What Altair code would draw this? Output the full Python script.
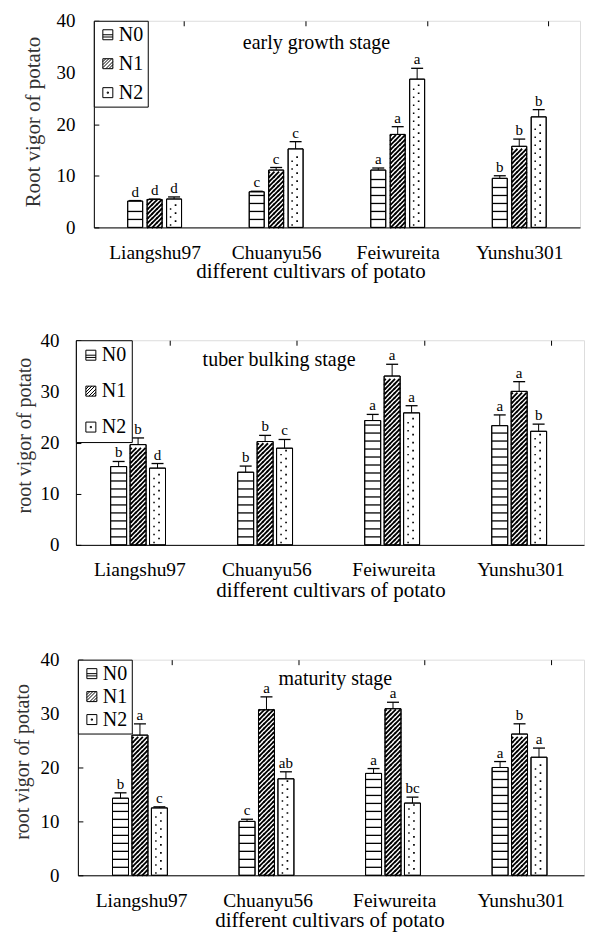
import math
import altair as alt
import pandas as pd

SERIF = "Liberation Serif"

cultivars = ["Liangshu97", "Chuanyu56", "Feiwureita", "Yunshu301"]
treatments = ["N0", "N1", "N2"]

# ---- early growth stage (rows: cultivars, cols: N0, N1, N2)
early_mean = [[5.1, 5.4, 5.5], [6.9, 11.1, 15.2], [11.1, 18.0, 28.7], [9.5, 15.7, 21.4]]
early_err = [[0.1, 0.1, 0.4], [0.1, 0.5, 1.4], [0.4, 1.5, 2.1], [0.5, 1.4, 1.4]]
early_sig = [["d", "d", "d"], ["c", "c", "c"], ["a", "a", "a"], ["b", "b", "b"]]

# ---- tuber bulking stage
bulk_mean = [[15.3, 19.6, 15.0], [14.2, 20.2, 18.9], [24.3, 33.0, 25.8], [23.3, 30.0, 22.2]]
bulk_err = [[1.0, 1.3, 0.9], [1.2, 1.2, 1.7], [1.2, 2.3, 1.4], [2.1, 1.9, 1.4]]
bulk_sig = [["b", "b", "d"], ["b", "b", "c"], ["a", "a", "a"], ["a", "a", "b"]]

# ---- maturity stage
mat_mean = [[14.3, 26.0, 12.5], [10.0, 30.7, 17.9], [18.9, 30.9, 13.4], [20.0, 26.2, 21.9]]
mat_err = [[1.0, 2.1, 0.2], [0.4, 2.4, 1.3], [0.9, 1.2, 1.1], [1.1, 1.9, 1.7]]
mat_sig = [["b", "a", "c"], ["c", "a", "ab"], ["a", "a", "bc"], ["a", "b", "a"]]


def sq(cx, cy, d, s):
    return (f"M{(cx - d / 2) / s:.4f},{(cy - d / 2) / s:.4f}"
            f"h{d / s:.4f}v{d / s:.4f}h{-d / s:.4f}Z")


def hatch_path(W, h, e=0.6):
    s = W / 2.0
    segs = []
    jmin = math.ceil((-W / 2 - h / 2 - e) / h) - 1
    jmax = math.floor((W / 2 + h / 2 + e) / h) + 1
    for j in range(jmin, jmax + 1):
        c = j * h
        x0, y0 = c - h / 2 - e, h / 2 + e
        x1, y1 = c + h / 2 + e, -h / 2 - e
        if x0 < -W / 2:
            x0, y0 = -W / 2, c + W / 2
        if x1 > W / 2:
            x1, y1 = W / 2, c - W / 2
        if x1 - x0 <= 0.05:
            continue
        segs.append(f"M{x0 / s:.4f},{y0 / s:.4f}L{x1 / s:.4f},{y1 / s:.4f}")
    return " ".join(segs)


def dots_path(W):
    s = W / 2.0
    return sq(1.5, -2.0, 1.7, s) + " " + sq(-3.5, 2.0, 1.5, s)


LEG_N0 = "M-1,-1H1V1H-1Z M-1,0H1 M-1,0.45H1"
LEG_N1 = ("M-1,-1H1V1H-1Z M-1,-0.4L-0.4,-1 M-1,0.2L0.2,-1 M-1,0.8L0.8,-1 "
          "M-0.4,1L1,-0.4 M0.2,1L1,0.2 M0.8,1L1,0.8")
LEG_N2 = "M-1,-1H1V1H-1Z M-0.12,-0.12H0.12V0.12H-0.12Z"


def panel(stage, means, errs, sigs, ytitle, W, H, bw, p):
    rows = []
    for i, c in enumerate(cultivars):
        for j, t in enumerate(treatments):
            rows.append(dict(cultivar=c, treatment=t, value=means[i][j],
                             err=errs[i][j], letter=sigs[i][j]))
    df = pd.DataFrame(rows)
    ppu = H / 40.0
    su = 8.0 / ppu      # horizontal stripe spacing
    hh = 4.6            # hatch tile height (px)
    hu = hh / ppu
    dh = 8.0            # dot tile height (px)
    du = dh / ppu

    yscale = alt.Scale(domain=[0, 40], nice=False, zero=True)
    yaxis = alt.Axis(values=[0, 10, 20, 30, 40], ticks=False, grid=True,
                     gridColor="black", gridDash=[5, 3000], gridWidth=1,
                     domainColor="black", domainWidth=1,
                     labelFont=SERIF, labelFontSize=19, labelColor="black",
                     labelPadding=p["ylp"],
                     titleFont=SERIF, titleFontSize=p["ytfs"], titleFontWeight="normal",
                     titleColor="#333333", titleX=p["ytx"], titleY=p["yty"],
                     titleAngle=270, titleAlign="center", titleBaseline="middle")

    def Y(field):
        return alt.Y(field, type="quantitative", scale=yscale, axis=yaxis, title=ytitle)

    xaxis = alt.Axis(labelAngle=0, ticks=False, tickBand="extent", grid=True,
                     gridColor="black", gridDash=[5, 3000], gridWidth=1,
                     domainColor="black", domainWidth=1,
                     labelFont=SERIF, labelFontSize=19.5, labelColor="black",
                     labelPadding=p["xlp"],
                     titleFont=SERIF, titleFontSize=21, titleFontWeight="normal",
                     titleColor="black", titleX=p["xtx"], titleY=p["xty"],
                     titleAlign="center", titleBaseline="middle")

    base = alt.Chart(df).encode(
        x=alt.X("cultivar:N", sort=cultivars,
                scale=alt.Scale(paddingInner=0.52, paddingOuter=0.26),
                axis=xaxis, title="different cultivars of potato"),
        xOffset=alt.XOffset("treatment:N", sort=treatments,
                            scale=alt.Scale(paddingInner=0, paddingOuter=0)),
    ).transform_calculate(top="datum.value + datum.err", mid="datum.value / 2")

    legend_pts = base.mark_point(filled=False, color="black", size=100,
                                 strokeWidth=1, opacity=1).encode(
        y=Y("mid"),
        shape=alt.Shape("treatment:N", sort=treatments,
                        scale=alt.Scale(domain=treatments, range=[LEG_N0, LEG_N1, LEG_N2]),
                        legend=alt.Legend(title=None, orient="top-left", offset=0,
                                          padding=p["lpad"], strokeColor="black",
                                          fillColor="white", labelFont=SERIF,
                                          labelFontSize=20, labelColor="black",
                                          symbolSize=100, symbolStrokeWidth=1,
                                          symbolStrokeColor="black",
                                          rowPadding=p["lrow"], labelOffset=1)),
    )

    bars = base.mark_bar(width=bw, fill="white", stroke="black", strokeWidth=1).encode(
        y=Y("value"))

    stripes = base.transform_filter("datum.treatment == 'N0'").transform_calculate(
        lv=f"sequence({su:.4f}, datum.value - {0.35 * su:.4f}, {su:.4f})"
    ).transform_flatten(["lv"]).mark_tick(
        orient="horizontal", size=bw, thickness=1.3, color="black", opacity=1
    ).encode(y=Y("lv"))

    hatch = base.transform_filter("datum.treatment == 'N1'").transform_calculate(
        lv=f"sequence({hu / 2:.4f}, datum.value - {hu / 2:.4f} + 0.0001, {hu:.5f})"
    ).transform_flatten(["lv"]).mark_point(
        shape=hatch_path(bw, hh), size=bw * bw, filled=False, color="black",
        strokeWidth=1.8, opacity=1
    ).encode(y=Y("lv"))

    dots = base.transform_filter("datum.treatment == 'N2'").transform_calculate(
        lv=f"sequence({du * 0.55:.4f}, datum.value - {du * 0.4:.4f}, {du:.4f})"
    ).transform_flatten(["lv"]).mark_point(
        shape=dots_path(bw), size=bw * bw, filled=True, color="black", opacity=1
    ).encode(y=Y("lv"))

    outline = base.mark_bar(width=bw, fillOpacity=0, stroke="black", strokeWidth=1).encode(
        y=Y("value"))

    err_rule = base.mark_rule(color="black", strokeWidth=1).encode(
        y=Y("value"), y2="top:Q")

    cap = base.mark_tick(orient="horizontal", size=12, thickness=1.3,
                         color="black", opacity=1).encode(y=Y("top"))

    labels = base.mark_text(baseline="alphabetic", dy=-4, font=SERIF, fontSize=15,
                            color="black").encode(y=Y("top"), text="letter:N")

    stage_title = base.transform_filter(
        "datum.cultivar == 'Chuanyu56' && datum.treatment == 'N1'"
    ).mark_text(text=stage, dx=p["tdx"], baseline="middle", align="center",
                font=SERIF, fontSize=20, color="black").encode(
        y=alt.Y(datum=p["ty"], type="quantitative", scale=yscale))

    plot = alt.layer(legend_pts, bars, stripes, hatch, dots, outline, err_rule, cap,
                     labels, stage_title).properties(width=W, height=H)

    # invisible spacer that sets how far this panel sits from the left edge
    spacer = alt.Chart(pd.DataFrame({"v": [0]})).mark_point(opacity=0, size=1).properties(
        width=p["shift"], height=1, view=alt.ViewBackground(stroke="transparent"))
    return alt.hconcat(spacer, plot, spacing=0).resolve_scale(
        shape="independent").resolve_legend(shape="independent")


p1 = panel("early growth stage", early_mean, early_err, early_sig,
           "Root vigor of potato", 487, 207, 15,
           dict(ylp=19, ytfs=21, ytx=-60, yty=101, xlp=16, xtx=217, xty=44,
                lpad=4, lrow=9, ty=35.7, tdx=40.4, shift=12))
p2 = panel("tuber bulking  stage", bulk_mean, bulk_err, bulk_sig,
           "root vigor of potato", 509, 205, 16,
           dict(ylp=17, ytfs=20, ytx=-51.5, yty=95, xlp=16, xtx=255, xty=46,
                lpad=5, lrow=16, ty=36.1, tdx=14, shift=4))
p3 = panel("maturity stage", mat_mean, mat_err, mat_sig,
           "root vigor of potato", 507, 216, 16,
           dict(ylp=19, ytfs=20, ytx=-55.5, yty=102, xlp=16, xtx=252, xty=45,
                lpad=4, lrow=3, ty=36.45, tdx=69, shift=2))

chart = alt.vconcat(p1, p2, p3, spacing=48).resolve_scale(
    shape="independent").resolve_legend(shape="independent").properties(
    padding={"left": 0, "top": 2, "right": 0, "bottom": 0}
).configure_view(stroke="black", strokeWidth=1).configure(font=SERIF)

chart.save("out.html", embed_options={"renderer": "svg", "actions": False})
